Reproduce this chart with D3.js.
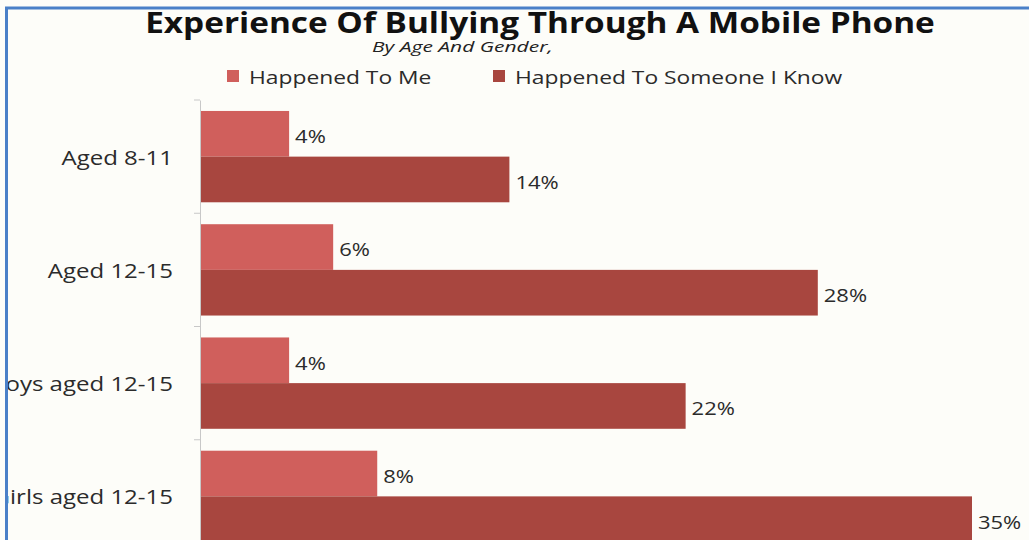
<!DOCTYPE html>
<html>
<head>
<meta charset="utf-8">
<script src="https://cdn.jsdelivr.net/npm/d3@7"></script>
<style>
  body { margin: 0; background: #fdfdf9; }
  svg { display: block; }
</style>
</head>
<body>
<div class="chart"></div>
<script>
// data
var categories = ["Aged 8-11", "Aged 12-15", "Boys aged 12-15", "Girls aged 12-15"];
var seriesNames = ["Happened To Me", "Happened To Someone I Know"];
var happenedToMe = [4, 6, 4, 8];
var happenedToSomeone = [14, 28, 22, 35];
var colors = ["#d05f5c", "#a8463f"];

var width = 1029, height = 540;

// the original picture is a bit stretched sideways, widen the texts to match
function stretch(sel, k) {
  sel.each(function() {
    var w = this.getComputedTextLength();
    d3.select(this)
      .attr("textLength", w * k)
      .attr("lengthAdjust", "spacingAndGlyphs");
  });
}

var svg = d3.select(".chart")
  .append("svg")
    .attr("width", width)
    .attr("height", height)
    .style("font-family", "'Open Sans', sans-serif");

svg.append("rect")
  .attr("width", width).attr("height", height)
  .attr("fill", "#fdfdf9");

// clip the panel inside the blue frame, the labels run off it on the left
svg.append("clipPath").attr("id", "panel")
  .append("rect").attr("x", 8).attr("y", 9).attr("width", width).attr("height", height);

var g = svg.append("g").attr("clip-path", "url(#panel)");

// scales
var x = d3.scaleLinear()
  .domain([0, 35])
  .range([201, 972]);

var y0 = d3.scaleBand()
  .domain(categories)
  .range([100, 553]);

var y1 = d3.scaleBand()
  .domain(seriesNames)
  .range([0, y0.bandwidth()])
  .paddingInner(0)
  .paddingOuter(0.24);

var rows = categories.map(function(c, i) {
  return { cat: c, values: [happenedToMe[i], happenedToSomeone[i]] };
});

// bars
var grp = g.selectAll(".cat")
  .data(rows)
  .enter()
  .append("g")
    .attr("class", "cat")
    .attr("transform", function(d) { return "translate(0," + y0(d.cat) + ")"; });

grp.selectAll("rect")
  .data(function(d) { return d.values.map(function(v, j) { return { s: seriesNames[j], v: v, j: j }; }); })
  .enter()
  .append("rect")
    .attr("x", x(0))
    .attr("y", function(d) { return y1(d.s); })
    .attr("width", function(d) { return x(d.v) - x(0); })
    .attr("height", y1.bandwidth())
    .attr("fill", function(d) { return colors[d.j]; });

grp.selectAll("text.val")
  .data(function(d) { return d.values.map(function(v, j) { return { s: seriesNames[j], v: v }; }); })
  .enter()
  .append("text")
    .attr("class", "val")
    .attr("x", function(d) { return x(d.v) + 6; })
    .attr("y", function(d) { return y1(d.s) + y1.bandwidth() / 2 + 3; })
    .attr("dy", "0.35em")
    .attr("font-size", 18)
    .attr("fill", "#2b2b2b")
    .text(function(d) { return d.v + "%"; })
    .call(stretch, 1.22);

// category axis
var axis = g.append("g")
  .attr("transform", "translate(200,0)")
  .call(d3.axisLeft(y0).tickSize(0).tickPadding(27));

axis.select(".domain").attr("stroke", "#c8c8c8");
axis.selectAll("text")
  .attr("font-size", 20)
  .attr("font-family", "'Open Sans', sans-serif")
  .attr("fill", "#2b2b2b")
  .attr("dy", "0.4em")
  .call(stretch, 1.2);

// boundary ticks between the groups
axis.selectAll(".bound")
  .data(categories)
  .enter()
  .append("line")
    .attr("class", "bound")
    .attr("x1", -6).attr("x2", 0)
    .attr("y1", function(d) { return y0(d); })
    .attr("y2", function(d) { return y0(d); })
    .attr("stroke", "#c8c8c8");

// title
g.append("text")
  .attr("x", 540).attr("y", 33)
  .attr("text-anchor", "middle")
  .attr("font-size", 29)
  .attr("font-weight", "bold")
  .attr("fill", "#111")
  .text("Experience Of Bullying Through A Mobile Phone")
  .call(stretch, 1.15);

g.append("text")
  .attr("x", 372).attr("y", 52)
  .attr("font-size", 15)
  .attr("font-style", "italic")
  .attr("fill", "#222")
  .text("By Age And Gender,")
  .call(stretch, 1.4);

// legend
var legX = [227, 493];
var leg = g.selectAll(".leg")
  .data(seriesNames)
  .enter()
  .append("g")
    .attr("class", "leg")
    .attr("transform", function(d, i) { return "translate(" + legX[i] + ",70)"; });

leg.append("rect")
  .attr("width", 12).attr("height", 12)
  .attr("fill", function(d, i) { return colors[i]; });

leg.append("text")
  .attr("x", 22).attr("y", 14)
  .attr("font-size", 19)
  .attr("fill", "#2b2b2b")
  .text(function(d) { return d; })
  .call(stretch, 1.2);

// blue frame
svg.append("path")
  .attr("d", "M6.5,540V8H1029")
  .attr("fill", "none")
  .attr("stroke", "#4a80c8")
  .attr("stroke-width", 3);
</script>
</body>
</html>
